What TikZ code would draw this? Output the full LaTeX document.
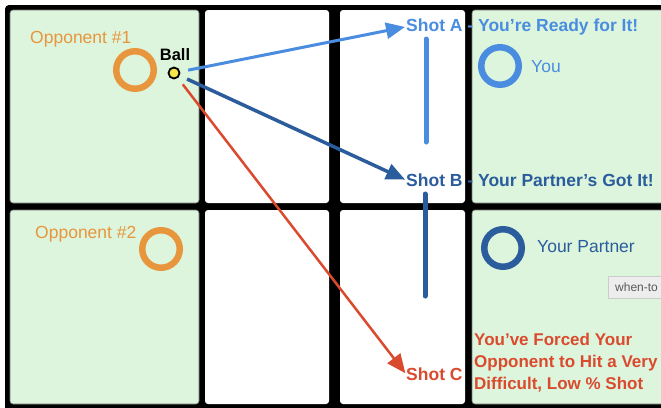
\documentclass[tikz,border=0pt]{standalone}
\usepackage{fontspec}
\setmainfont{Liberation Sans}
\usetikzlibrary{arrows.meta}
\definecolor{grn}{HTML}{DDF5DC}
\definecolor{org}{HTML}{E8963D}
\definecolor{lblue}{HTML}{4A8DE0}
\definecolor{dblue}{HTML}{2B5C9C}
\definecolor{rred}{HTML}{DA4A2E}
\definecolor{yel}{HTML}{F6E84A}
\begin{document}
\begin{tikzpicture}[x=1pt,y=-1pt,
  greencell/.style={fill=grn, draw=black!55, line width=0.6pt, rounded corners=3pt},
  whitecell/.style={fill=white, rounded corners=3pt},
  ring/.style={circle, draw=#1, line width=6.5pt, minimum size=37.5pt, inner sep=0pt},
  lbl/.style={inner sep=0pt, anchor=base west, font=\fontsize{17.5}{21}\selectfont},
  boldlbl/.style={lbl, font=\fontsize{17.5}{21}\selectfont\bfseries},
  shot/.style={-{Triangle[length=19pt 0,width=16pt 0]}, shorten <=8pt, shorten >=1pt},
  bar/.style={line width=5pt, line cap=round}]
\useasboundingbox (0,0) rectangle (661,407);
\fill[white] (0,0) rectangle (661,407);
\fill[black, rounded corners=4pt] (5,5) rectangle (690,420);
% cells
\path[greencell] (10,10) rectangle (199,203);
\path[greencell] (10,210) rectangle (199,404);
\path[whitecell] (205,10) rectangle (329,203);
\path[whitecell] (205,210) rectangle (329,404);
\path[whitecell] (340,10) rectangle (465,203);
\path[whitecell] (340,210) rectangle (465,404);
\path[greencell] (472,10) rectangle (690,203);
\path[greencell] (472,210) rectangle (690,404);
% players
\node[ring=org] (opp1) at (135,70) {};
\node[ring=org] (opp2) at (161,249) {};
\node[ring=lblue] (you) at (500,66) {};
\node[ring=dblue] (partner) at (503,248) {};
\node[lbl, text=org] (opp1lbl) at (30,43.3) {Opponent \#1};
\node[lbl, text=org] (opp2lbl) at (35,238.3) {Opponent \#2};
\node[lbl, text=lblue] (youlbl) at (531,72.3) {You};
\node[lbl, text=dblue] (partnerlbl) at (537,252.3) {Your Partner};
% ball
\node[circle, fill=yel, draw=black, line width=1.8pt, minimum size=11pt, inner sep=0pt] (ball) at (174,73) {};
\node[inner sep=0pt, anchor=base, font=\fontsize{16.5}{19}\selectfont\bfseries] (balllbl) at (175,60) {Ball};
% shot labels
\node[boldlbl, text=lblue] (shotA) at (406,31.3) {Shot A - You're Ready for It!};
\node[boldlbl, text=dblue] (shotB) at (406,186.3) {Shot B - Your Partner's Got It!};
\node[boldlbl, text=rred] (shotC) at (406,380.3) {Shot C};
\node[inner sep=0pt, anchor=north west, align=left, text=rred, font=\fontsize{17}{22}\selectfont\bfseries] (forced) at (474,332.5) {You've Forced Your\\Opponent to Hit a Very\\Difficult, Low \% Shot};
% bars
\coordinate (a1) at (426,39);
\coordinate (a2) at (426,142);
\coordinate (b1) at (425,194);
\coordinate (b2) at (425,296);
\draw[bar, lblue] (a1) -- (a2);
\draw[bar, dblue] (b1) -- (b2);
% arrows
\draw[shot, lblue, line width=3pt] (ball) -- (shotA.west);
\draw[shot, dblue, line width=3.5pt] (ball) -- (shotB.west);
\draw[shot, rred, line width=2.5pt] (ball) -- (shotC.west);
% tooltip
\node[anchor=north west, draw=black!20, fill=black!7, minimum height=22pt, minimum width=70pt, inner xsep=7pt, text=black!65, font=\fontsize{12}{14}\selectfont, align=left, text width=56pt] (tip) at (608,276) {when-to};
\end{tikzpicture}
\end{document}
